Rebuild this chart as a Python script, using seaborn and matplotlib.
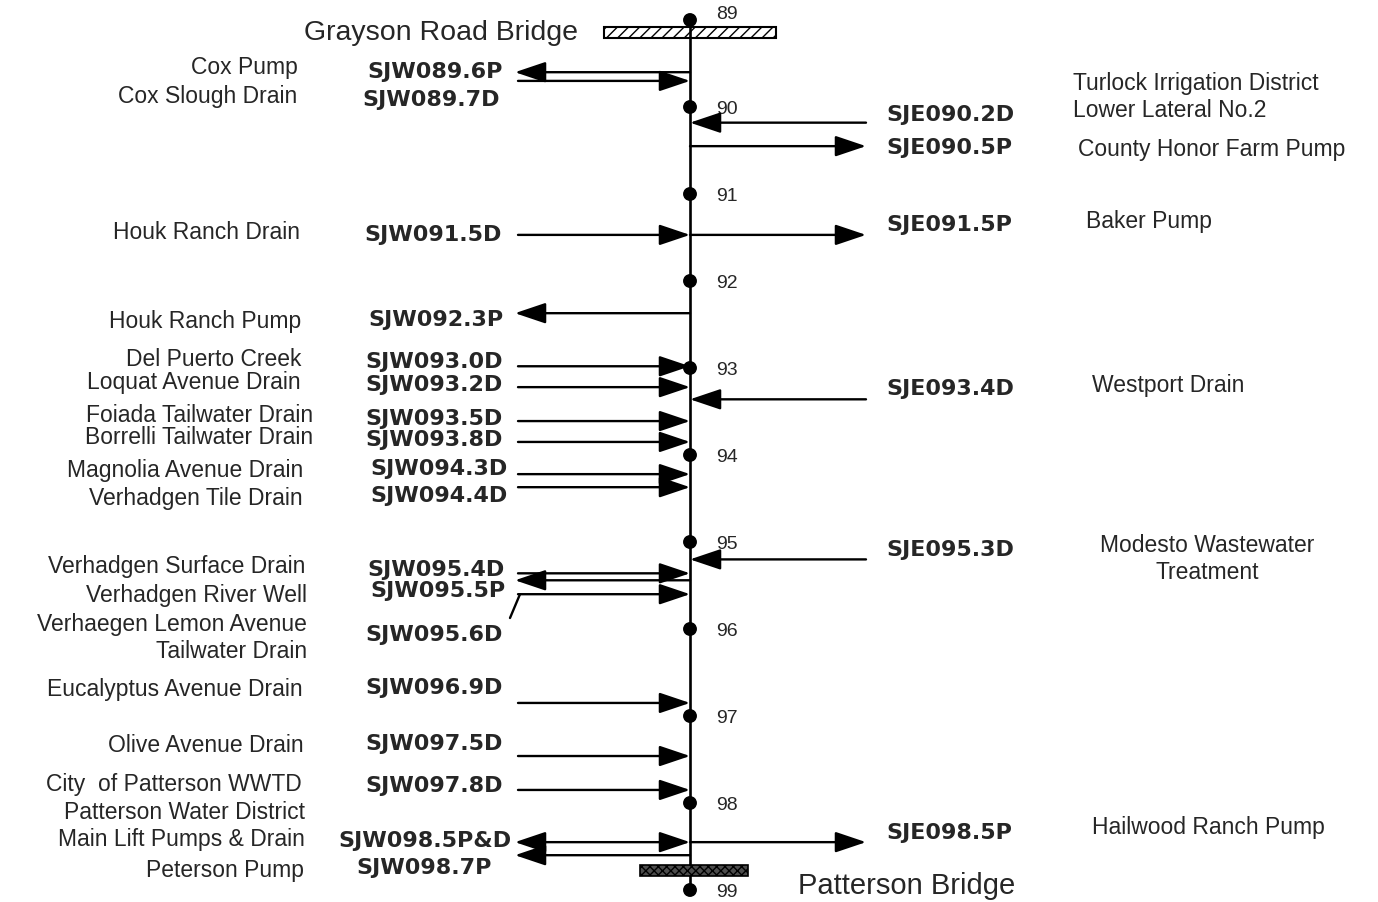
import numpy as np
import pandas as pd
import seaborn as sns
import matplotlib.pyplot as plt
from matplotlib.patches import Rectangle

# River miles marked along the channel
river_miles = [89, 90, 91, 92, 93, 94, 95, 96, 97, 98, 99]

# West bank (left side) sites
west_names = ['Cox Pump', 'Cox Slough Drain', 'Houk Ranch Drain', 'Houk Ranch Pump',
              'Del Puerto Creek', 'Loquat Avenue Drain', 'Foiada Tailwater Drain',
              'Borrelli Tailwater Drain', 'Magnolia Avenue Drain', 'Verhadgen Tile Drain',
              'Verhadgen Surface Drain', 'Verhadgen River Well',
              'Verhaegen Lemon Avenue\nTailwater Drain', 'Eucalyptus Avenue Drain',
              'Olive Avenue Drain', 'City  of Patterson WWTD',
              'Patterson Water District\nMain Lift Pumps & Drain', 'Peterson Pump']
west_codes = ['SJW089.6P', 'SJW089.7D', 'SJW091.5D', 'SJW092.3P', 'SJW093.0D', 'SJW093.2D',
              'SJW093.5D', 'SJW093.8D', 'SJW094.3D', 'SJW094.4D', 'SJW095.4D', 'SJW095.5P',
              'SJW095.6D', 'SJW096.9D', 'SJW097.5D', 'SJW097.8D', 'SJW098.5P&D', 'SJW098.7P']
# flow type: D = drain into river, P = pump out of river, B = both
west_kind = ['P', 'D', 'D', 'P', 'D', 'D', 'D', 'D', 'D', 'D', 'D', 'P', 'D', 'D', 'D', 'D', 'B', 'P']
# where each arrow meets the river (river mile as drawn)
west_mile = [89.60, 89.70, 91.47, 92.37, 92.98, 93.22, 93.61, 93.85, 94.22, 94.37,
             95.36, 95.44, 95.60, 96.85, 97.46, 97.85, 98.45, 98.60]

# East bank (right side) sites
east_names = ['Turlock Irrigation District\nLower Lateral No.2', 'County Honor Farm Pump',
              'Baker Pump', 'Westport Drain', 'Modesto Wastewater\nTreatment',
              'Hailwood Ranch Pump']
east_codes = ['SJE090.2D', 'SJE090.5P', 'SJE091.5P', 'SJE093.4D', 'SJE095.3D', 'SJE098.5P']
east_kind = ['D', 'P', 'P', 'D', 'D', 'P']
east_mile = [90.18, 90.45, 91.47, 93.36, 95.20, 98.45]


def mi(px):
    # layout helper: page pixel row -> river mile
    return 89 + (px - 20) / 87.0


sns.set_theme(style='white')
plt.rcParams['font.family'] = ['Liberation Sans', 'DejaVu Sans']

fig = plt.figure(figsize=(13.78, 9.02), dpi=100)
ax = fig.add_axes([0, 0, 1, 1])
ax.set_xlim(0, 1378)
ax.set_ylim(mi(902), mi(0))
ax.axis('off')

RX = 690          # river x
WX = 515          # west arrow end
EX = 866          # east arrow end
head = '-|>,head_length=0.95,head_width=0.32'
dhead = '<|-|>,head_length=0.95,head_width=0.32'


def arrow(x0, x1, y, style=head):
    ax.annotate('', xy=(x1, y), xytext=(x0, y),
                arrowprops=dict(arrowstyle=style, color='black', lw=1.7,
                                mutation_scale=20, shrinkA=0, shrinkB=0), zorder=4)


# bridges
ax.add_patch(Rectangle((604, mi(27)), 172, 11 / 87.0, facecolor='white', edgecolor='black',
                       hatch='///', lw=1.5, zorder=1))
ax.add_patch(Rectangle((640, mi(865)), 108, 11 / 87.0, facecolor='0.3', edgecolor='black',
                       hatch='xxxx', lw=1.2, zorder=5))
ax.text(578, mi(33), 'Grayson Road Bridge', ha='right', va='center', fontsize=20.5)
ax.text(798, mi(886), 'Patterson Bridge', ha='left', va='center', fontsize=21)

# river channel and mile markers
rm = pd.DataFrame({'x': [RX] * len(river_miles), 'mile': river_miles})
sns.lineplot(data=rm, x='x', y='mile', color='black', lw=1.9, sort=False,
             estimator=None, ax=ax, zorder=2)
sns.scatterplot(data=rm, x='x', y='mile', color='black', s=100, ax=ax, zorder=6,
                edgecolor='none')
for m in river_miles:
    dy = -0.06 if m == 89 else 0.03
    ax.text(RX + 26, m + dy, str(m), ha='left', va='center', fontsize=14)

# west bank arrows
for k, y in zip(west_kind, west_mile):
    if k == 'D':
        arrow(WX + 3, RX, y)
    elif k == 'P':
        arrow(RX, WX, y)
    else:
        arrow(WX, RX, y, dhead)
# bent leader for SJW095.6D
ax.plot([510, 520], [mi(618), west_mile[12]], color='black', lw=1.7, zorder=4)

# east bank arrows
for k, y in zip(east_kind, east_mile):
    if k == 'D':
        arrow(EX, RX, y)
    else:
        arrow(RX, EX, y)

# west labels
west_name_px = [67, 96, 232, 321, 359, 382, 415, 437, 470, 498, 566, 595, 638, 689, 745,
                784, 826, 870]
west_name_x = [298, 297, 300, 301, 301, 301, 313, 313, 303, 303, 305, 307, 307, 303, 304,
               302, 305, 304]
west_code_px = [72, 100, 235, 320, 362, 385, 419, 440, 469, 496, 570, 591, 635, 688, 744,
                786, 841, 868]
west_code_x = [503, 500, 502, 503, 503, 503, 503, 503, 508, 508, 505, 505, 503, 503, 503,
               503, 511, 492]
for name, code, ny, nx, cy, cx in zip(west_names, west_codes, west_name_px, west_name_x,
                                      west_code_px, west_code_x):
    ax.text(nx, mi(ny), name, ha='right', va='center', fontsize=16.5, linespacing=1.2)
    ax.text(cx, mi(cy), code, ha='right', va='center', fontsize=16, fontweight='bold',
            family='DejaVu Sans')

# east labels
east_name_px = [97, 149, 221, 385, 559, 827]
east_name_x = [1073, 1078, 1086, 1092, 1207, 1092]
east_code_px = [115, 148, 225, 389, 550, 833]
for i, (name, code, ny, nx, cy) in enumerate(zip(east_names, east_codes, east_name_px,
                                                 east_name_x, east_code_px)):
    ax.text(886, mi(cy), code, ha='left', va='center', fontsize=16, fontweight='bold',
            family='DejaVu Sans')
    ax.text(nx, mi(ny), name, ha='center' if i == 4 else 'left', va='center',
            fontsize=16.5, linespacing=1.2)

fig.savefig('out.png', dpi=100, facecolor='white')
